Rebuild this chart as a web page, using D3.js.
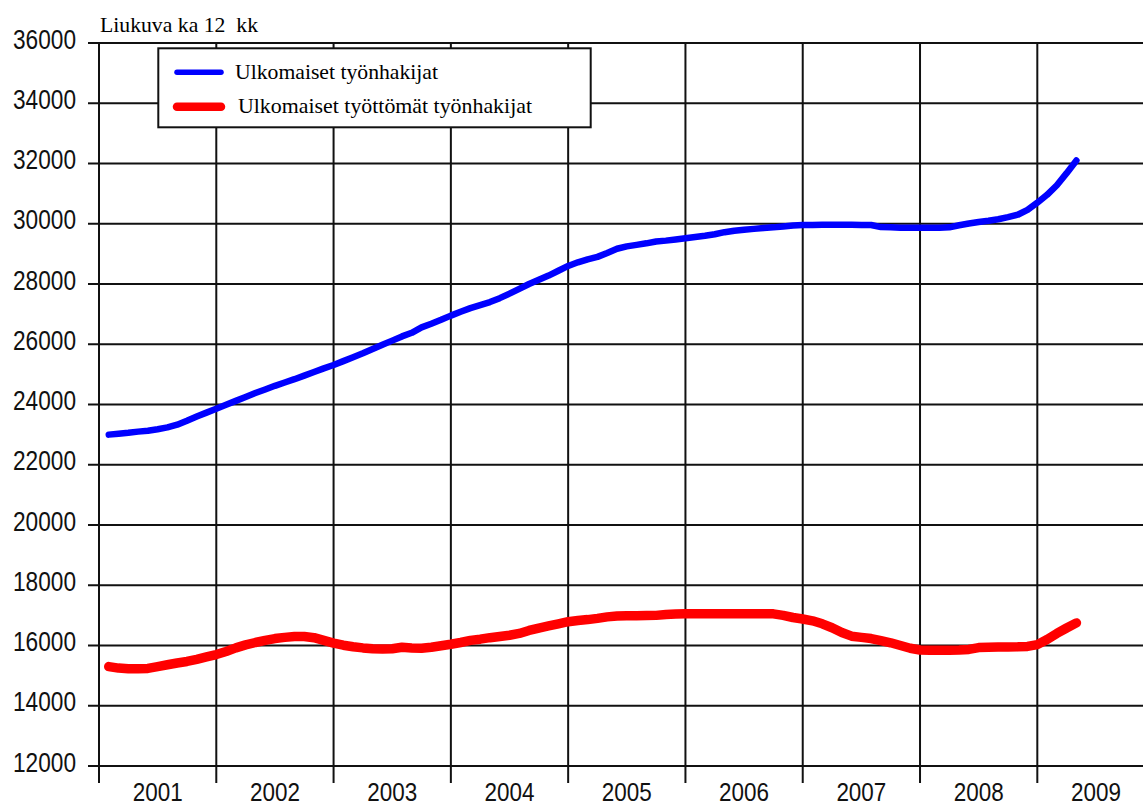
<!DOCTYPE html>
<html>
<head>
<meta charset="utf-8">
<script src="https://cdn.jsdelivr.net/npm/d3@7"></script>
<style>
  body { margin: 0; background: #fff; }
  svg { display: block; }
  .tick-label { font-family: "Liberation Sans", Arial, sans-serif; font-size: 27px; fill: #111; }
  .serif { font-family: "Liberation Serif", "Times New Roman", serif; fill: #000; white-space: pre; }
</style>
</head>
<body>
<svg id="chart" width="1143" height="807"></svg>
<script>
// tick values and labels
const yTicks = [12000, 14000, 16000, 18000, 20000, 22000, 24000, 26000, 28000, 30000, 32000, 34000, 36000];
const years = ['2001', '2002', '2003', '2004', '2005', '2006', '2007', '2008', '2009'];
const seriesNames = ['Ulkomaiset työnhakijat', 'Ulkomaiset työttömät työnhakijat'];
const unitLabel = 'Liukuva ka 12  kk';

// monthly values, Jan 2001 .. Apr 2009 (moving average over 12 months)
const jobSeekers = [
  23000, 23030, 23060, 23100, 23130, 23180, 23240, 23330, 23460, 23600, 23730, 23860,
  23990, 24120, 24250, 24380, 24500, 24620, 24730, 24840, 24960, 25080, 25200, 25310,
  25440, 25570, 25700, 25840, 25980, 26120, 26260, 26380, 26560, 26680, 26810, 26950,
  27080, 27200, 27300, 27400, 27530, 27680, 27840, 28000, 28140, 28280, 28440, 28600,
  28720, 28820, 28900, 29030, 29170, 29250, 29300, 29350, 29410, 29440, 29480, 29520,
  29560, 29600, 29650, 29720, 29770, 29800, 29830, 29860, 29880, 29910, 29940, 29960,
  29960, 29970, 29970, 29970, 29970, 29960, 29960, 29890, 29880, 29870, 29870, 29870,
  29870, 29870, 29880, 29950, 30010, 30060, 30100, 30150, 30220, 30300, 30460, 30700,
  30960, 31280, 31680, 32100
];
const unemployed = [
  15300, 15250, 15230, 15230, 15240, 15300, 15360, 15420, 15470, 15540, 15620, 15700,
  15800, 15920, 16020, 16100, 16170, 16230, 16270, 16300, 16300, 16260, 16170, 16080,
  16010, 15960, 15920, 15890, 15880, 15890, 15940, 15920, 15910, 15940, 15990, 16040,
  16100, 16170, 16210, 16260, 16300, 16340, 16400, 16500, 16580, 16650, 16720, 16790,
  16830, 16860, 16900, 16950, 16980, 16985, 16990, 16995, 17000, 17030, 17045, 17050,
  17050, 17050, 17050, 17050, 17050, 17050, 17050, 17050, 17050, 17000, 16930, 16880,
  16820, 16720, 16590, 16430, 16310, 16270, 16230, 16160, 16090, 16000, 15910, 15850,
  15840, 15840, 15840, 15850, 15870, 15930, 15940, 15950, 15950, 15955, 15970, 16030,
  16200, 16400, 16580, 16750
];
const colors = ['#0000ff', '#ff0000'];

class Chart
{
  constructor()
  {
    this.svg = d3.select('#chart');
    this.left = 99;
    this.top = 43;
    this.bottom = 766;

    // one unit = one month, 2001 .. end of 2009
    this.scaleX = d3.scaleLinear().domain([0, years.length * 12]).range([this.left, 1154.6]);
    this.scaleY = d3.scaleLinear().domain([12000, 36000]).range([this.bottom, this.top]);

    this.drawGrid();
    this.drawLines();
    this.drawLegend();
  }

  drawGrid()
  {
    let grid = this.svg.append('g');
    let boundaries = d3.range(0, years.length + 1).map(i => i * 12);

    grid.selectAll('line.h')
        .data(yTicks)
        .join('line')
        .attr('class', 'h')
        .attr('x1', this.left - 11)
        .attr('x2', 1160)
        .attr('y1', d => this.scaleY(d))
        .attr('y2', d => this.scaleY(d))
        .style('stroke', '#111')
        .style('stroke-width', 2);

    grid.selectAll('line.v')
        .data(boundaries)
        .join('line')
        .attr('class', 'v')
        .attr('x1', d => this.scaleX(d))
        .attr('x2', d => this.scaleX(d))
        .attr('y1', this.top)
        .attr('y2', this.bottom + 17)
        .style('stroke', '#111')
        .style('stroke-width', 2);

    grid.selectAll('text.y')
        .data(yTicks)
        .join('text')
        .attr('class', 'y tick-label')
        .attr('x', 76)
        .attr('y', d => this.scaleY(d) + 5.5)
        .attr('text-anchor', 'end')
        .attr('textLength', 63)
        .attr('lengthAdjust', 'spacingAndGlyphs')
        .text(d => d);

    // year labels sit in the middle of each year band
    grid.selectAll('text.x')
        .data(years)
        .join('text')
        .attr('class', 'x tick-label')
        .attr('x', (d, i) => this.scaleX(i * 12 + 6))
        .attr('y', 801)
        .attr('font-size', 25)
        .style('font-size', '25px')
        .attr('text-anchor', 'middle')
        .attr('textLength', 50)
        .attr('lengthAdjust', 'spacingAndGlyphs')
        .text(d => d);

    this.svg.append('text')
        .attr('class', 'serif')
        .attr('x', 100)
        .attr('y', 32)
        .attr('font-size', 21)
        .attr('textLength', 158)
        .attr('lengthAdjust', 'spacingAndGlyphs')
        .text(unitLabel);
  }

  drawLines()
  {
    let line = d3.line()
                   .x((d, i) => this.scaleX(i + 1))
                   .y(d => this.scaleY(d));

    let widths = [6.5, 9.5];
    [jobSeekers, unemployed].forEach((values, k) => {
      this.svg.append('path')
          .datum(values)
          .attr('d', line)
          .style('fill', 'none')
          .style('stroke', colors[k])
          .style('stroke-width', widths[k])
          .style('stroke-linejoin', 'round')
          .style('stroke-linecap', 'round');
    });
  }

  drawLegend()
  {
    let legend = this.svg.append('g');
    legend.append('rect')
        .attr('x', 158.3)
        .attr('y', 48.3)
        .attr('width', 432.4)
        .attr('height', 79)
        .style('fill', '#fff')
        .style('stroke', '#111')
        .style('stroke-width', 2);

    let rows = [
      { y : 72.3, w : 5.5, textY : 78.5, textX : 235, len : 203 },
      { y : 106.7, w : 8.5, textY : 113, textX : 238, len : 294 },
    ];

    rows.forEach((r, k) => {
      legend.append('line')
          .attr('x1', 177)
          .attr('x2', 221)
          .attr('y1', r.y)
          .attr('y2', r.y)
          .style('stroke', colors[k])
          .style('stroke-width', r.w)
          .style('stroke-linecap', 'round');

      legend.append('text')
          .attr('class', 'serif')
          .attr('x', r.textX)
          .attr('y', r.textY)
          .attr('font-size', 21)
          .attr('textLength', r.len)
          .attr('lengthAdjust', 'spacingAndGlyphs')
          .text(seriesNames[k]);
    });
  }
}

new Chart();
</script>
</body>
</html>
